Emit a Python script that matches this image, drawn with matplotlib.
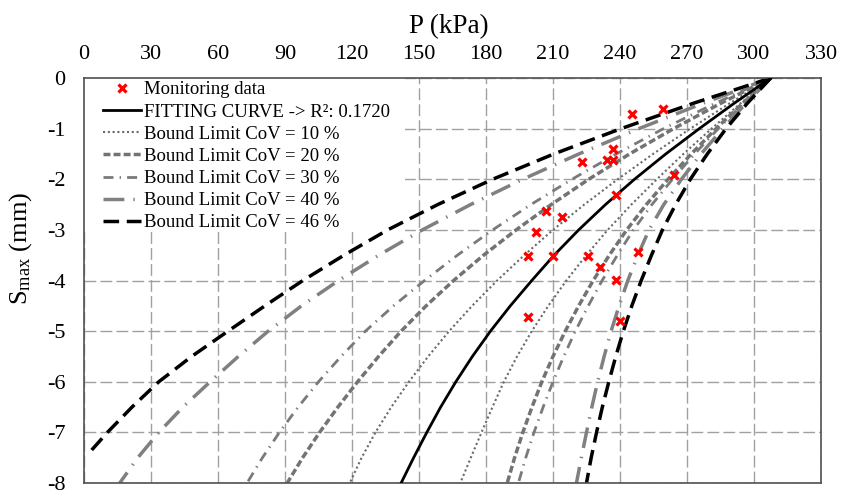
import matplotlib
matplotlib.use("Agg")
import matplotlib.pyplot as plt
from matplotlib.patches import Rectangle

plt.rcParams['font.family'] = ['Liberation Serif', 'DejaVu Serif']
plt.rcParams['mathtext.fontset'] = 'custom'
plt.rcParams['mathtext.rm'] = 'Liberation Serif'
plt.rcParams['mathtext.it'] = 'Liberation Serif:italic'
plt.rcParams['axes.unicode_minus'] = False

# ---- data, S levels every 0.5 mm ----
s_levels = [0, -0.5, -1, -1.5, -2, -2.5, -3, -3.5, -4, -4.5, -5, -5.5,
            -6, -6.5, -7, -7.5, -8]
p_fit    = [307.5, 291.1, 275.5, 260.5, 246.5, 233.5, 221.5, 210.5, 200.5,
            190.9, 182, 173.9, 166.5, 159.7, 153.5, 147.6, 142]
p_10_low = [307.5, 289.1, 271.5, 254.8, 239, 224, 210, 197.1, 185,
            173.8, 163.5, 154.1, 145.5, 137.6, 130.5, 124.3, 119]
p_10_up  = [307.5, 294, 281, 268.4, 256.5, 245.1, 234.5, 224.9, 216,
            207.9, 200.5, 193.9, 188, 182.9, 178, 173.2, 168.5]
p_20_low = [307.5, 285.1, 264, 244.3, 226, 209.2, 193.5, 178.9, 165.5,
            153.2, 142, 131.9, 122.5, 113.7, 105.5, 97.9, 91]
p_20_up  = [307.5, 294.9, 283, 271.9, 261.5, 251.8, 243, 235.2, 228,
            221.5, 215.5, 210, 205, 200.6, 196.5, 192.8, 189.5]
p_30_low = [307.5, 282.6, 259.5, 238.3, 218.5, 200.1, 183, 167.2, 152.5,
            138.6, 126, 115.1, 105, 95.9, 87.5, 79.9, 73]
p_30_up  = [307.5, 295.4, 284, 273.4, 263.5, 254.3, 246, 238.8, 232,
            225.8, 220, 214.8, 210, 205.6, 201.5, 197.8, 194.5]
p_40_low = [307.5, 277.1, 248.5, 221.6, 196.5, 173.1, 151.5, 132, 114,
            97.4, 82.5, 69.1, 56.5, 44.3, 33.5, 24.1, 16]
p_40_up  = [307.5, 296.4, 286, 276.3, 267.5, 259.6, 253, 248, 243.5,
            239.6, 236, 232.9, 230, 227.4, 225, 222.7, 220.5]
s_46_low = [0, -0.5, -1, -1.5, -2, -2.5, -3, -3.5, -4, -4.5, -5, -5.5,
            -6, -6.5, -7, -7.37]
p_46_low = [307.5, 272.8, 240.5, 210.4, 183, 158.4, 136, 116.4, 98,
            81, 64.5, 48.2, 33.5, 21.5, 10.5, 3]
p_46_up  = [307.5, 297, 287.5, 279.1, 271.5, 264.9, 259, 254.1, 249.5,
            245.3, 241.5, 238.1, 235, 232.1, 229.5, 227.1, 225]

mon_p = [245.2, 259.1, 236.7, 234.4, 236.7, 222.8, 264.2, 238.1, 206.9, 214.2,
         202.2, 199.0, 209.9, 225.5, 247.9, 231.2, 238.1, 199.0, 240.0]
mon_s = [-0.72, -0.61, -1.41, -1.61, -1.61, -1.65, -1.92, -2.31, -2.63, -2.74,
         -3.05, -3.52, -3.52, -3.52, -3.43, -3.73, -3.99, -4.73, -4.80]

x_ticks = [0, 30, 60, 90, 120, 150, 180, 210, 240, 270, 300, 330]
y_ticks = [0, -1, -2, -3, -4, -5, -6, -7, -8]

fig = plt.figure(figsize=(8.41, 4.95), dpi=100)
ax = fig.add_axes([84/841, 1-483/495, (821-84)/841, (483-78)/495])

st46 = dict(color='black', lw=2.5, ls=(0, (4.5, 2.2)))
st40 = dict(color='#808080', lw=2.5, ls=(0, (6, 2.6, 0.4, 2.6)))
st30 = dict(color='#7a7a7a', lw=2.0, ls=(0, (3.6, 2.2, 0.5, 2.2)))
st20 = dict(color='#737373', lw=2.5, ls=(0, (2.0, 0.9)))
st10 = dict(color='#6a6a6a', lw=1.5, ls=(0, (1, 1.3)))

ax.plot(mon_p, mon_s, ls='none', marker='x', ms=5.5, mew=2.3, color='#ff0000',
        zorder=6, label='Monitoring data')
ax.plot(p_fit, s_levels, color='black', lw=2.0, zorder=5,
        label='FITTING CURVE -> R²: 0.1720')
ax.plot(p_10_low, s_levels, label='Bound Limit CoV = 10 %', **st10)
ax.plot(p_10_up, s_levels, **st10)
ax.plot(p_20_low, s_levels, label='Bound Limit CoV = 20 %', **st20)
ax.plot(p_20_up, s_levels, **st20)
ax.plot(p_30_low, s_levels, label='Bound Limit CoV = 30 %', **st30)
ax.plot(p_30_up, s_levels, **st30)
ax.plot(p_40_low, s_levels, label='Bound Limit CoV = 40 %', **st40)
ax.plot(p_40_up, s_levels, **st40)
ax.plot(p_46_low, s_46_low, label='Bound Limit CoV = 46 %', **st46)
ax.plot(p_46_up, s_levels, **st46)

ax.set_xlim(0, 330)
ax.set_ylim(-8, 0)
ax.set_xticks(x_ticks)
ax.set_yticks(y_ticks)
ax.xaxis.tick_top()
ax.xaxis.set_label_position('top')
ax.tick_params(axis='both', length=0, labelsize=16, colors='black')
ax.tick_params(axis='x', pad=10)
ax.tick_params(axis='y', pad=13.5)
ax.grid(True, color='#a0a0a0', lw=1.0, ls=(0, (8.5, 3)))
ax.set_axisbelow(True)
for sp in ax.spines.values():
    sp.set_color('#505050')
    sp.set_linewidth(1.2)

ax.set_xlabel('P (kPa)', fontsize=19.5)
ax.xaxis.set_label_coords(0.495, 1.111)
ax.set_ylabel(r'S$_{\mathrm{max}}$ (mm)', fontsize=19)
ax.yaxis.set_label_coords(-0.068, 0.58)

# white background behind the legend (covers the grid)
ax.add_patch(Rectangle((0, 0.62), 0.435, 0.38, transform=ax.transAxes,
                       facecolor='white', edgecolor='none', zorder=1.5))

leg = ax.legend(loc='upper left', bbox_to_anchor=(0.0258, 0.992), fontsize=13.5,
                frameon=False, borderpad=0, borderaxespad=0,
                handlelength=2.0, handletextpad=0.2, labelspacing=0.27)
leg.set_zorder(7)

fig.savefig('out.png', dpi=100)
